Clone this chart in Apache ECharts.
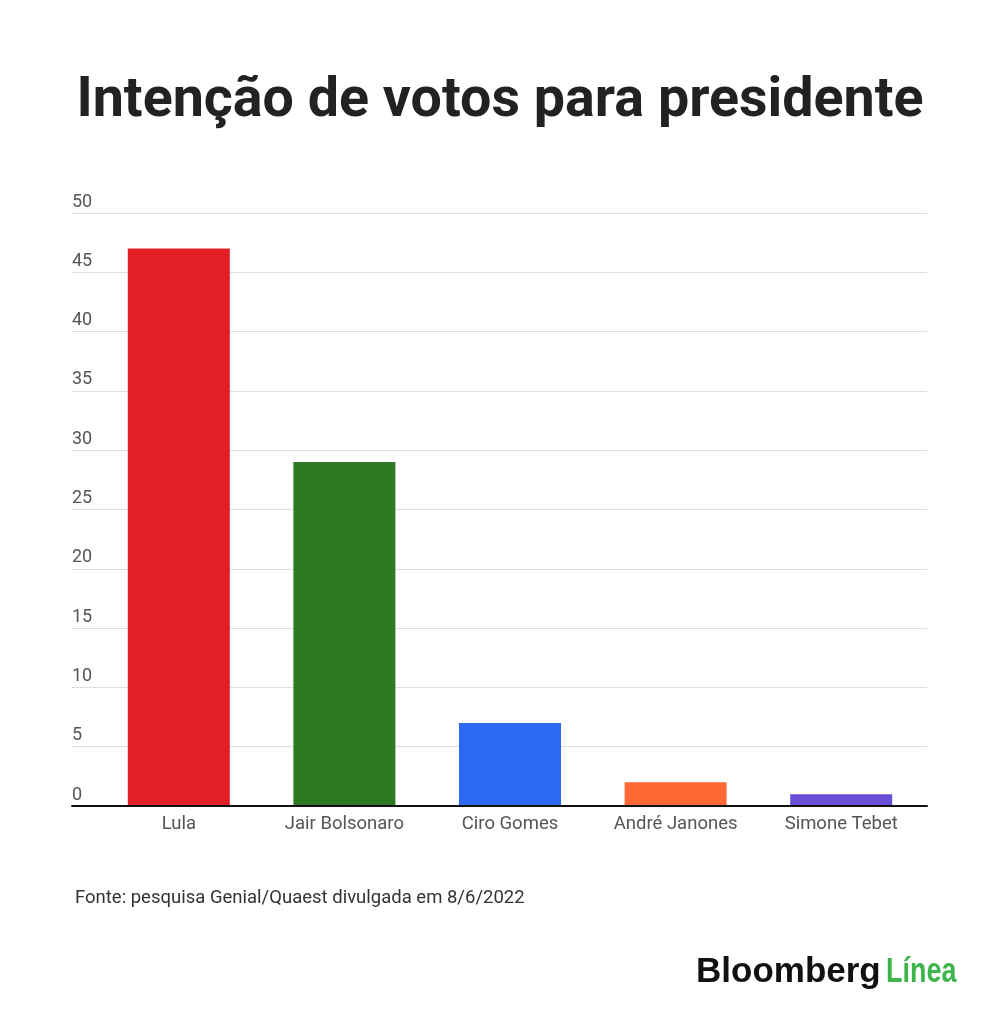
<!DOCTYPE html>
<html>
<head>
<meta charset="utf-8">
<script src="https://cdn.jsdelivr.net/npm/echarts@6/dist/echarts.min.js"></script>
<style>
html,body{margin:0;padding:0;background:#fff;}
#chart{width:1000px;height:1018px;}
</style>
</head>
<body>
<div id="chart"></div>
<script>
const titleText = 'Intenção de votos para presidente';
const categories = ['Lula', 'Jair Bolsonaro', 'Ciro Gomes', 'André Janones', 'Simone Tebet'];
const values = [47, 29, 7, 2, 1];
const barColors = ['#e31e25', '#2e7a22', '#2d68f5', '#ff6933', '#6a4fd6'];
const sourceText = 'Fonte: pesquisa Genial/Quaest divulgada em 8/6/2022';
const logoWord1 = 'Bloomberg';
const logoWord2 = 'Línea';

const chart = echarts.init(document.getElementById('chart'));
const yMin = 0, yMax = 50, yInterval = 5;
chart.setOption({
  backgroundColor: '#ffffff',
  animation: false,
  title: {
    text: titleText,
    left: 'center',
    top: 69,
    textStyle: {fontFamily: 'Roboto', fontWeight: 'bold', fontSize: 55.6, color: '#222222'}
  },
  grid: [
    {left: 72, right: 73, top: 213, bottom: 212},
    {left: 96, right: 76, top: 213, bottom: 212}
  ],
  xAxis: [
    {type: 'category', gridIndex: 0, data: categories, z: 5,
      axisLine: {show: true, lineStyle: {color: '#111111', width: 2}},
      axisTick: {show: false}, axisLabel: {show: false}, splitLine: {show: false}},
    {type: 'category', gridIndex: 1, data: categories,
      axisLine: {show: false}, axisTick: {show: false},
      axisLabel: {color: '#555555', fontFamily: 'Roboto', fontSize: 18.5, margin: 9}}
  ],
  yAxis: [
    {type: 'value', gridIndex: 0, min: yMin, max: yMax, interval: yInterval,
      axisLine: {show: false}, axisTick: {show: false},
      axisLabel: {inside: true, verticalAlign: 'bottom', margin: 0, padding: [0, 0, 2, 0],
        color: '#555555', fontFamily: 'Roboto', fontSize: 18},
      splitLine: {lineStyle: {color: '#dddddd', width: 1}}},
    {type: 'value', gridIndex: 1, min: yMin, max: yMax, interval: yInterval,
      axisLine: {show: false}, axisTick: {show: false}, axisLabel: {show: false}, splitLine: {show: false}}
  ],
  series: [{
    type: 'bar',
    xAxisIndex: 1,
    yAxisIndex: 1,
    barWidth: '61.6%',
    data: values.map((v, i) => ({value: v, itemStyle: {color: barColors[i]}}))
  }],
  graphic: [
    {type: 'text', left: 75, top: 889,
      style: {text: sourceText, fontFamily: 'Roboto', fontSize: 18.5, fill: '#333333'}},
    {type: 'text', x: 696, y: 955,
      style: {text: logoWord1, fontFamily: 'Liberation Sans', fontWeight: 'bold', fontSize: 35, fill: '#111111'}},
    {type: 'text', x: 886, y: 955, scaleX: 0.77,
      style: {text: logoWord2, fontFamily: 'Liberation Sans', fontWeight: 'bold', fontSize: 35, fill: '#3db54a'}}
  ]
});
</script>
</body>
</html>
